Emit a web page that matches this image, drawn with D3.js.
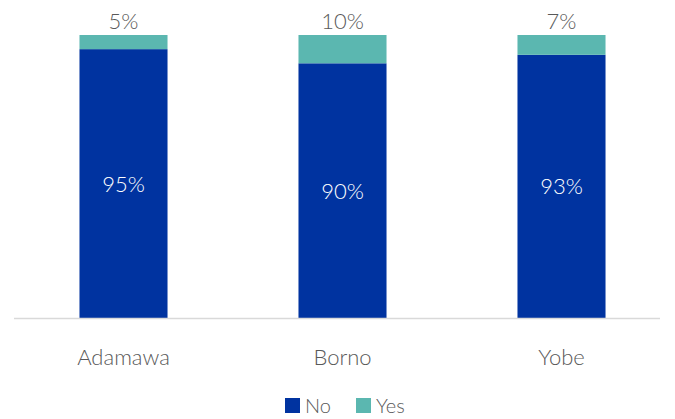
<!DOCTYPE html>
<html><head><meta charset="utf-8">
<script src="https://cdn.jsdelivr.net/npm/d3@7"></script>
<style>body{margin:0;background:#fff}svg{display:block}text{font-family:Lato,"Open Sans",sans-serif;font-weight:300}</style>
</head><body><svg id="c" width="675" height="419"></svg>
<script>
const categories = ["Adamawa","Borno","Yobe"];
const noValues = [95,90,93];
const yesValues = [5,10,7];
const seriesNames = ["No","Yes"];
const colors = {No:"#0033A0", Yes:"#5BB7B0"};

const svg = d3.select("#c");
const x = d3.scaleBand().domain(categories).range([14,671]).paddingInner(0.598).paddingOuter(0.299);
const y = d3.scaleLinear().domain([0,100]).range([318,35]);

const data = categories.map((c,i)=>({cat:c, No:noValues[i], Yes:yesValues[i]}));
const stack = d3.stack().keys(seriesNames)(data);

svg.append("g").selectAll("g").data(stack).join("g").attr("fill",d=>colors[d.key])
  .selectAll("rect").data(d=>d).join("rect")
  .attr("x",d=>x(d.data.cat)).attr("width",x.bandwidth())
  .attr("y",d=>y(d[1])).attr("height",d=>y(d[0])-y(d[1]));

// axis line
svg.append("line").attr("x1",14).attr("x2",660).attr("y1",318.5).attr("y2",318.5)
  .attr("stroke","#d9d9d9").attr("stroke-width",1.5);

const fs = 22;
// No labels
svg.append("g").selectAll("text").data(data).join("text")
  .attr("x",d=>x(d.cat)+x.bandwidth()/2).attr("y",d=>(y(0)+y(d.No))/2+8)
  .attr("text-anchor","middle").attr("fill","#fff").attr("font-size",fs)
  .text(d=>d.No+"%");
// Yes labels
svg.append("g").selectAll("text").data(data).join("text")
  .attr("x",d=>x(d.cat)+x.bandwidth()/2).attr("y",y(100)-6)
  .attr("text-anchor","middle").attr("fill","#595959").attr("font-size",fs)
  .text(d=>d.Yes+"%");
// category labels
svg.append("g").selectAll("text").data(categories).join("text")
  .attr("x",d=>x(d)+x.bandwidth()/2).attr("y",365)
  .attr("text-anchor","middle").attr("fill","#595959").attr("font-size",fs)
  .text(d=>d);

// legend
const leg = svg.append("g");
const legItems = [{k:"No",x:285},{k:"Yes",x:356}];
legItems.forEach(it=>{
  leg.append("rect").attr("x",it.x).attr("y",398).attr("width",15).attr("height",15).attr("fill",colors[it.k]);
  leg.append("text").attr("x",it.x+20).attr("y",413).attr("fill","#595959").attr("font-size",20).text(it.k);
});
</script></body></html>
